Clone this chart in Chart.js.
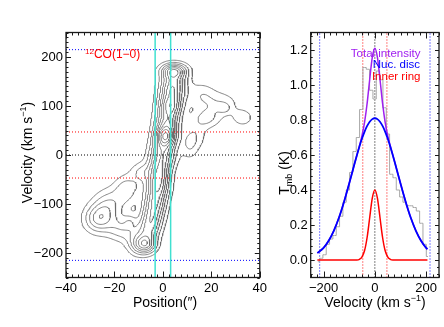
<!DOCTYPE html>
<html>
<head>
<meta charset="utf-8">
<script src="https://cdn.jsdelivr.net/npm/chart.js@4.4.1/dist/chart.umd.min.js"></script>
<style>
  html, body { margin: 0; padding: 0; background: #fff; }
  #wrap { position: relative; width: 444px; height: 327px; overflow: hidden; }
  .panel { position: absolute; top: 0; height: 327px; }
  #pvBox { left: 0; width: 270px; }
  #specBox { left: 270px; width: 174px; }
</style>
</head>
<body>
<div id="wrap">
  <div class="panel" id="pvBox"><canvas id="pv"></canvas></div>
  <div class="panel" id="specBox"><canvas id="spec"></canvas></div>
</div>
<script>
// ---- left panel: 12CO(1-0) position-velocity map ----
const posTicks = [-40, -20, 0, 20, 40];
const pvVelTicks = [-200, -100, 0, 100, 200];
const contourLevels = [1, 2, 3, 4, 5, 6, 7, 8, 9, 10, 11, 12];

// emission knots: offset ("), velocity (km/s), peak (in contour steps), size (" and km/s)
const knotPos = [4.6, 4.3, 3.6, 3.0, 2.2, 1.5, 1.0, 0.2, -0.5, -1.5, -2.3, -3.3, -4.5, -5.8, -7.0,
                 16, 24, 33, 18, 25.5, 13, 11,
                 -26.5, -22, -15, -17, -11, -13.5, -12, -9];
const knotVel = [172, 148, 124, 100, 75, 55, 38, 15, -10, -40, -70, -98, -125, -152, -183,
                 122, 105, 76, 75, 95, 40, 15,
                 -130, -100, -70, -150, -178, -135, -64, -35];
const knotPeak = [6.0, 4.6, 4.6, 5.2, 4.4, 3.0, 7.0, 4.4, 4.4, 6.0, 4.8, 4.5, 4.2, 4.2, 5.6,
                  1.7, 1.7, 1.7, 2.2, 1.3, 1.7, 1.4,
                  4.2, 2.6, 2.6, 2.6, 2.4, 1.3, 0.9, 2.0];
const knotSizePos = [3.8, 3.7, 3.7, 3.4, 3.6, 3.4, 3.0, 3.6, 3.6, 3.1, 3.3, 3.3, 3.3, 3.3, 3.0,
                     4, 5, 3.0, 4, 1.8, 3.5, 2.5,
                     4.2, 4.5, 3.5, 4, 3, 1.8, 0.8, 3];
const knotSizeVel = [11, 16, 16, 14, 16, 16, 14, 16, 16, 18, 16, 16, 16, 16, 13,
                     18, 17, 12, 14, 7, 20, 18,
                     20, 22, 20, 18, 18, 10, 5, 14];

const slitEdges = [-3.2, 3.2];   // cyan lines
const discVel = [-215, 215];     // blue dotted
const ringVel = [-47, 47];       // red dotted
const sysVel = [0];              // black dotted

// ---- right panel: spectrum and Gaussian fits ----
const specVel = [-222, -209, -196, -183, -170, -157, -144, -131, -118, -105, -92, -79, -66, -53, -40, -27, -14, -1,
                 12, 25, 38, 51, 64, 77, 90, 103, 116, 129, 142, 155, 168, 181, 194, 207];
const specTmb = [-0.01, 0.01, 0.03, 0.09, 0.12, 0.14, 0.19, 0.25, 0.33, 0.40, 0.50, 0.62, 0.70, 0.86, 1.10, 1.09, 0.97, 0.92,
                 1.08, 1.03, 0.87, 0.72, 0.49, 0.47, 0.40, 0.36, 0.33, 0.31, 0.31, 0.30, 0.28, 0.21, 0.09, 0.02];
const fitVel = [-224, -200, -180, -160, -140, -120, -100, -80, -70, -60, -50, -40, -30, -20, -10, 0,
                10, 20, 30, 40, 50, 60, 70, 80, 100, 120, 140, 160, 180, 200, 205];
const fitDisc = [0.040, 0.069, 0.110, 0.167, 0.241, 0.333, 0.437, 0.546, 0.599, 0.649, 0.694, 0.734, 0.766, 0.790, 0.805, 0.810,
                 0.805, 0.790, 0.766, 0.734, 0.694, 0.649, 0.599, 0.546, 0.437, 0.333, 0.241, 0.167, 0.110, 0.069, 0.062];
const fitRing = [0, 0, 0, 0, 0, 0, 0, 0, 0, 0.004, 0.018, 0.054, 0.130, 0.243, 0.353, 0.400,
                 0.353, 0.243, 0.130, 0.054, 0.018, 0.004, 0, 0, 0, 0, 0, 0, 0, 0, 0];
const fitTotal = [0.040, 0.069, 0.110, 0.167, 0.241, 0.333, 0.437, 0.546, 0.599, 0.653, 0.712, 0.788, 0.896, 1.033, 1.158, 1.210,
                  1.158, 1.033, 0.896, 0.788, 0.712, 0.653, 0.599, 0.546, 0.437, 0.333, 0.241, 0.167, 0.110, 0.069, 0.062];
const specVelTicks = [-200, 0, 200];
const tmbTicks = [0, 0.2, 0.4, 0.6, 0.8, 1.0, 1.2];

const FONT = '"Liberation Sans", Arial, sans-serif';
const minus = v => (v < 0 ? '\u2212' + Math.abs(v) : String(v));

// intensity map on a grid, then contour it (marching squares)
const NX = 161, NY = 201, X0 = -40, DX = 0.5, Y0 = -250, DY = 2.5;
const field = new Float64Array(NX * NY);
for (let j = 0; j < NY; j++) {
  for (let i = 0; i < NX; i++) {
    const x = X0 + i * DX, y = Y0 + j * DY;
    let s = 0;
    for (let k = 0; k < knotPos.length; k++) {
      const a = (x - knotPos[k]) / knotSizePos[k];
      const b = (y - knotVel[k]) / knotSizeVel[k];
      s += knotPeak[k] * Math.exp(-0.5 * (a * a + b * b));
    }
    field[j * NX + i] = s;
  }
}

function contourPaths(level) {
  const at = (i, j) => field[j * NX + i];
  const pts = new Map(), adj = new Map();
  function edge(e, i, j) {
    let key, ia, ja, ib, jb;
    if (e === 0) { key = 'h' + i + '_' + j; ia = i; ja = j; ib = i + 1; jb = j; }
    else if (e === 1) { key = 'v' + (i + 1) + '_' + j; ia = i + 1; ja = j; ib = i + 1; jb = j + 1; }
    else if (e === 2) { key = 'h' + i + '_' + (j + 1); ia = i; ja = j + 1; ib = i + 1; jb = j + 1; }
    else { key = 'v' + i + '_' + j; ia = i; ja = j; ib = i; jb = j + 1; }
    if (!pts.has(key)) {
      const fa = at(ia, ja), fb = at(ib, jb);
      const t = (level - fa) / (fb - fa);
      pts.set(key, { x: X0 + (ia + t * (ib - ia)) * DX, y: Y0 + (ja + t * (jb - ja)) * DY });
    }
    return key;
  }
  function link(a, b) {
    if (!adj.has(a)) adj.set(a, []);
    if (!adj.has(b)) adj.set(b, []);
    adj.get(a).push(b);
    adj.get(b).push(a);
  }
  const table = { 1: [[3, 0]], 2: [[0, 1]], 3: [[3, 1]], 4: [[1, 2]], 6: [[0, 2]], 7: [[3, 2]], 8: [[2, 3]],
                  9: [[0, 2]], 11: [[1, 2]], 12: [[1, 3]], 13: [[0, 1]], 14: [[3, 0]] };
  for (let j = 0; j < NY - 1; j++) {
    for (let i = 0; i < NX - 1; i++) {
      const a = at(i, j), b = at(i + 1, j), c = at(i + 1, j + 1), d = at(i, j + 1);
      const idx = (a > level ? 1 : 0) | (b > level ? 2 : 0) | (c > level ? 4 : 0) | (d > level ? 8 : 0);
      let segs;
      if (idx === 5 || idx === 10) {
        const mid = (a + b + c + d) / 4 > level;
        if (idx === 5) segs = mid ? [[0, 1], [2, 3]] : [[3, 0], [1, 2]];
        else segs = mid ? [[3, 0], [1, 2]] : [[0, 1], [2, 3]];
      } else segs = table[idx];
      if (!segs) continue;
      for (const [e1, e2] of segs) link(edge(e1, i, j), edge(e2, i, j));
    }
  }
  const seen = new Set(), paths = [];
  const walk = start => {
    const path = [pts.get(start)];
    seen.add(start);
    let cur = start;
    while (true) {
      const nb = adj.get(cur).find(k => !seen.has(k));
      if (nb === undefined) {
        if (path.length > 2 && adj.get(cur).includes(start)) path.push(pts.get(start));
        break;
      }
      seen.add(nb);
      path.push(pts.get(nb));
      cur = nb;
    }
    paths.push(path);
  };
  for (const [k, n] of adj) if (n.length === 1 && !seen.has(k)) walk(k);
  for (const k of adj.keys()) if (!seen.has(k)) walk(k);
  return paths;
}

const contourData = [];
contourLevels.forEach(l => {
  contourPaths(l).forEach(p => {
    p.forEach(q => contourData.push(q));
    contourData.push({ x: p[0].x, y: null });
  });
});

function hLines(vals, x0, x1) {
  const d = [];
  vals.forEach((v, k) => {
    if (k) d.push({ x: x0, y: null });
    d.push({ x: x0, y: v }, { x: x1, y: v });
  });
  return d;
}
function vLines(vals, y0, y1) {
  const d = [];
  vals.forEach((v, k) => {
    if (k) d.push({ x: v, y: null });
    d.push({ x: v, y: y0 }, { x: v, y: y1 });
  });
  return d;
}

function richText(ctx, parts, x, y, rot, align, color) {
  ctx.save();
  ctx.translate(x, y);
  ctx.rotate(rot);
  ctx.fillStyle = color || '#000';
  ctx.textBaseline = 'alphabetic';
  let w = 0;
  parts.forEach(p => { ctx.font = p[1] + 'px ' + FONT; w += ctx.measureText(p[0]).width; });
  let cx = align === 'right' ? -w : align === 'left' ? 0 : -w / 2;
  parts.forEach(p => {
    ctx.font = p[1] + 'px ' + FONT;
    ctx.fillText(p[0], cx, p[2]);
    cx += ctx.measureText(p[0]).width;
  });
  ctx.restore();
}

// IDL-style frame with inward ticks on all four sides, plus the panel's text
function axesFrame(cfg) {
  return {
    id: 'axesFrame',
    afterDatasetsDraw(chart) {
      const { ctx, chartArea: a, scales } = chart;
      const xs = scales.x, ys = scales.y;
      ctx.save();
      ctx.strokeStyle = '#1a1a1a';
      ctx.lineWidth = 1;
      ctx.beginPath();
      for (let k = Math.ceil(xs.min / cfg.xMinor - 1e-9); k <= Math.floor(xs.max / cfg.xMinor + 1e-9); k++) {
        const px = Math.round(xs.getPixelForValue(k * cfg.xMinor)) + 0.5;
        const len = k % cfg.xPer === 0 ? cfg.xLen : cfg.xLen / 2;
        ctx.moveTo(px, a.bottom); ctx.lineTo(px, a.bottom - len);
        ctx.moveTo(px, a.top); ctx.lineTo(px, a.top + len);
      }
      for (let k = Math.ceil(ys.min / cfg.yMinor - 1e-9); k <= Math.floor(ys.max / cfg.yMinor + 1e-9); k++) {
        const py = Math.round(ys.getPixelForValue(k * cfg.yMinor)) + 0.5;
        const len = k % cfg.yPer === 0 ? cfg.yLen : cfg.yLen / 2;
        ctx.moveTo(a.left, py); ctx.lineTo(a.left + len, py);
        ctx.moveTo(a.right, py); ctx.lineTo(a.right - len, py);
      }
      ctx.stroke();
      ctx.lineWidth = 1.3;
      ctx.strokeRect(a.left, a.top, a.right - a.left, a.bottom - a.top);
      ctx.restore();
      cfg.text(ctx);
    }
  };
}

const tickFont = { family: FONT, size: 13 };
function axis(min, max, ticks, fmt, extra) {
  return Object.assign({
    type: 'linear', min: min, max: max,
    grid: { display: false, drawTicks: false },
    border: { display: false },
    afterBuildTicks: s => { s.ticks = ticks.map(v => ({ value: v })); },
    ticks: { font: tickFont, color: '#000', maxRotation: 0, autoSkip: false, callback: fmt }
  }, extra);
}

const dotted = (data, color) => ({
  data: data, borderColor: color, borderWidth: 1, borderDash: [1, 2], pointRadius: 0, spanGaps: false
});

// left chart
new Chart(document.getElementById('pv'), {
  type: 'line',
  data: {
    datasets: [
      { data: vLines(slitEdges, -250, 250), borderColor: '#40e0d0', borderWidth: 1.5, pointRadius: 0 },
      dotted(hLines(discVel, -40, 40), '#0000ff'),
      dotted(hLines(ringVel, -40, 40), '#ff0000'),
      dotted(hLines(sysVel, -40, 40), '#000000'),
      { data: contourData, borderColor: '#6a6a6a', borderWidth: 0.8, pointRadius: 0, spanGaps: false }
    ]
  },
  options: {
    animation: false, responsive: true, maintainAspectRatio: false, events: [],
    layout: { padding: { left: 0, right: 8, top: 32.5, bottom: 0 } },
    plugins: { legend: { display: false }, tooltip: { enabled: false } },
    scales: {
      x: axis(-40, 40, posTicks, v => minus(v), { afterFit: s => { s.height = 49.5; } }),
      y: axis(-250, 250, pvVelTicks, v => minus(v), { afterFit: s => { s.width = 66; } })
    }
  },
  plugins: [axesFrame({
    xMinor: 2.5, xPer: 8, xLen: 6, yMinor: 10, yPer: 10, yLen: 5,
    text: ctx => {
      richText(ctx, [['12', 8, -4.5], ['CO(1\u22120)', 12, 0]], 85, 58.3, 0, 'left', '#ff0000');
      richText(ctx, [['Velocity (km s', 14, 0], ['\u22121', 9, -6], [')', 14, 0]], 32, 152.5, -Math.PI / 2, 'center');
      richText(ctx, [['Position(\u2033)', 14, 0]], 165, 307, 0, 'center');
    }
  })]
});

// right chart
new Chart(document.getElementById('spec'), {
  type: 'line',
  data: {
    datasets: [
      { data: fitVel.map((v, i) => ({ x: v, y: fitRing[i] })), borderColor: '#ff0000', borderWidth: 1.5,
        pointRadius: 0, cubicInterpolationMode: 'monotone' },
      { data: fitVel.map((v, i) => ({ x: v, y: fitDisc[i] })), borderColor: '#0000ff', borderWidth: 1.8,
        pointRadius: 0, cubicInterpolationMode: 'monotone' },
      { data: fitVel.map((v, i) => ({ x: v, y: fitTotal[i] })), borderColor: '#a020f0', borderWidth: 1.5,
        pointRadius: 0, cubicInterpolationMode: 'monotone' },
      { data: specVel.map((v, i) => ({ x: v, y: specTmb[i] })), borderColor: '#a8a8a8', borderWidth: 1,
        pointRadius: 0, stepped: 'middle' },
      dotted(vLines(discVel, -0.1, 1.3), '#0000ff'),
      dotted(vLines(ringVel, -0.1, 1.3), '#ff0000'),
      dotted(vLines(sysVel, -0.1, 1.3), '#000000')
    ]
  },
  options: {
    animation: false, responsive: true, maintainAspectRatio: false, events: [],
    layout: { padding: { left: 0, right: 5, top: 32.5, bottom: 0 } },
    plugins: { legend: { display: false }, tooltip: { enabled: false } },
    scales: {
      x: axis(-250, 250, specVelTicks, v => minus(v), { afterFit: s => { s.height = 49.5; } }),
      y: axis(-0.1, 1.3, tmbTicks, v => v.toFixed(1), { afterFit: s => { s.width = 40.7; } })
    }
  },
  plugins: [axesFrame({
    xMinor: 25, xPer: 8, xLen: 6, yMinor: 0.04, yPer: 5, yLen: 4,
    text: ctx => {
      richText(ctx, [['Total intensity', 11.5, 0]], 150.5, 56.7, 0, 'right', '#a020f0');
      richText(ctx, [['Nuc. disc', 11.5, 0]], 150, 68.3, 0, 'right', '#0000ff');
      richText(ctx, [['Inner ring', 11.5, 0]], 150.5, 80, 0, 'right', '#ff0000');
      richText(ctx, [['Velocity (km s', 14, 0], ['\u22121', 9, -6], [')', 14, 0]], 105, 307, 0, 'center');
      richText(ctx, [['T', 14, 0], ['mb', 9, 3], [' (K)', 14, 0]], 19, 173, -Math.PI / 2, 'center');
    }
  })]
});
</script>
</body>
</html>
